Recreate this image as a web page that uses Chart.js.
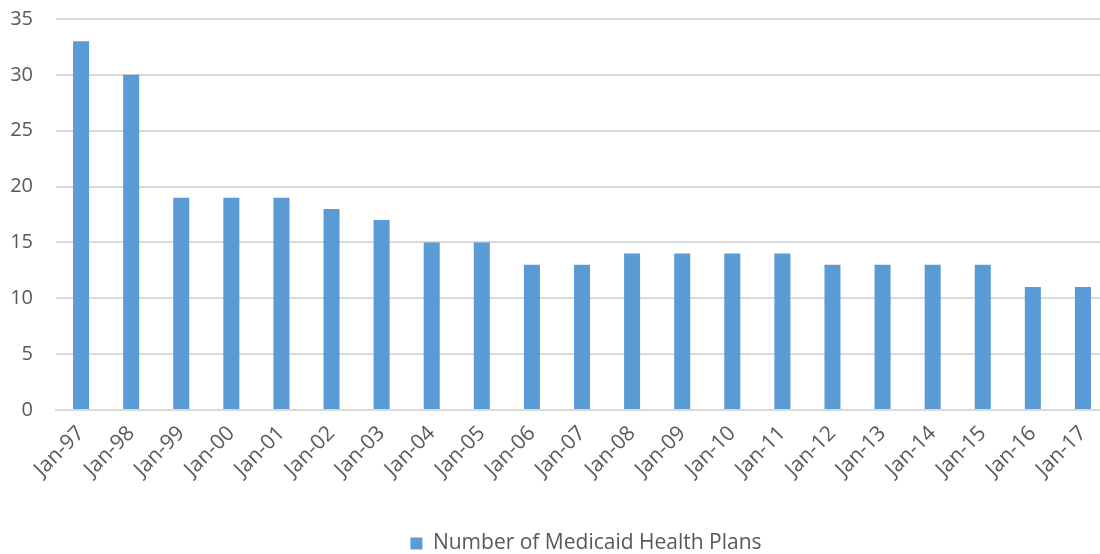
<!DOCTYPE html>
<html>
<head>
<meta charset="utf-8">
<script src="https://cdn.jsdelivr.net/npm/chart.js@4"></script>
<style>
    html, body { margin: 0; padding: 0; overflow: hidden; background: #fff; }
    #wrap { width: 1108px; height: 554px; }
</style>
</head>
<body>
<div id="wrap"><canvas id="chart"></canvas></div>
<script>
const months = [
    "Jan-97", "Jan-98", "Jan-99", "Jan-00", "Jan-01", "Jan-02", "Jan-03",
    "Jan-04", "Jan-05", "Jan-06", "Jan-07", "Jan-08", "Jan-09", "Jan-10",
    "Jan-11", "Jan-12", "Jan-13", "Jan-14", "Jan-15", "Jan-16", "Jan-17"
];
const plans = [33, 30, 19, 19, 19, 18, 17, 15, 15, 13, 13, 14, 14, 14, 14, 13, 13, 13, 13, 11, 11];
const seriesName = "Number of Medicaid Health Plans";
const yMin = 0;
const yMax = 35;
const yStep = 5;

const textColor = "#595959";
const gridColor = "#D9D9D9";
const fontFamily = "'Open Sans', sans-serif";

// nudge legend right and down, excel puts it a bit off centre
const legendShift = {
    id: "legendShift",
    afterLayout(chart) {
        chart.legend.left += 32;
        chart.legend.right += 32;
        chart.legend.top += 10;
        chart.legend.bottom += 10;
    }
};

const ctx = document.getElementById("chart").getContext("2d");

new Chart(ctx, {
    type: "bar",
    data: {
        labels: months,
        datasets: [
            {
                label: seriesName,
                data: plans,
                backgroundColor: "#5B9BD5",
                categoryPercentage: 1,
                barPercentage: 0.32,
            },
        ],
    },
    options: {
        responsive: true,
        maintainAspectRatio: false,
        animation: false,
        layout: {
            padding: { top: 19, right: 0, bottom: 0, left: 0 },
        },
        plugins: {
            legend: {
                position: "bottom",
                labels: {
                    boxWidth: 12,
                    boxHeight: 12,
                    padding: 2,
                    color: textColor,
                    font: { family: fontFamily, size: 21 },
                },
            },
            tooltip: { enabled: false },
        },
        scales: {
            x: {
                grid: { display: false },
                border: { display: true, color: gridColor, width: 2 },
                ticks: {
                    color: textColor,
                    font: { family: fontFamily, size: 21 },
                    minRotation: 45,
                    maxRotation: 45,
                    padding: 3,
                },
                afterFit(scale) {
                    scale.height = 111;
                },
            },
            y: {
                min: yMin,
                max: yMax,
                ticks: {
                    stepSize: yStep,
                    color: textColor,
                    padding: 23,
                    font: { family: fontFamily, size: 20 },
                },
                grid: {
                    color: gridColor,
                    lineWidth: 2,
                    drawTicks: false,
                },
                border: { display: false },
                afterFit(scale) {
                    scale.width = 56;
                    scale.paddingTop = 0;
                    scale.paddingBottom = 0;
                },
            },
        },
    },
    plugins: [legendShift],
});
</script>
</body>
</html>
